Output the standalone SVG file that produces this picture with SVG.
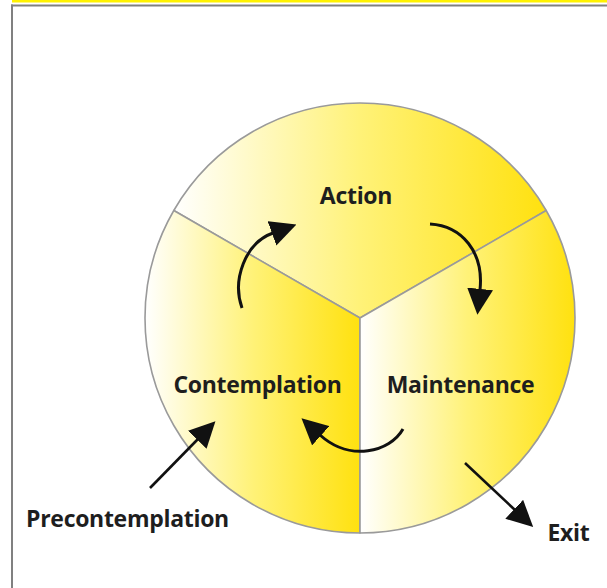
<svg xmlns="http://www.w3.org/2000/svg" width="607" height="588" viewBox="0 0 607 588">
  <style>
    .lbl { font-family: "Open Sans", "Noto Sans", "DejaVu Sans", sans-serif; font-weight: bold; font-size: 23px; letter-spacing: -0.3px; fill: #1e1e1e; }
    .sector { stroke: #9a9a9a; stroke-width: 1.6; stroke-linejoin: round; }
    .conn { fill: none; stroke: #111; stroke-width: 3; }
    .straight { fill: none; stroke: #111; stroke-width: 2.6; }
  </style>
  <defs>
    <linearGradient id="gTop" gradientUnits="userSpaceOnUse" x1="174" y1="0" x2="546" y2="0">
      <stop offset="0" stop-color="#FFFFFF"/>
      <stop offset="0.5" stop-color="#FFF278"/>
      <stop offset="1" stop-color="#FFE10F"/>
    </linearGradient>
    <linearGradient id="gLeft" gradientUnits="userSpaceOnUse" x1="145" y1="0" x2="360" y2="0">
      <stop offset="0" stop-color="#FFFFFF"/>
      <stop offset="0.5" stop-color="#FFF278"/>
      <stop offset="1" stop-color="#FFE10F"/>
    </linearGradient>
    <linearGradient id="gRight" gradientUnits="userSpaceOnUse" x1="360" y1="0" x2="575" y2="0">
      <stop offset="0" stop-color="#FFFFFF"/>
      <stop offset="0.5" stop-color="#FFF278"/>
      <stop offset="1" stop-color="#FFE10F"/>
    </linearGradient>
    <marker id="head" markerUnits="userSpaceOnUse" markerWidth="26" markerHeight="26" viewBox="0 0 24 24" refX="1" refY="12" orient="auto">
      <path d="M0,0 L24,12 L0,24 Z" fill="#111"/>
    </marker>
  </defs>

  <rect x="0" y="0" width="607" height="588" fill="#FFFFFF"/>
  <g id="frame">
    <rect x="12" y="0" width="595" height="2.5" fill="#FFF200"/>
    <rect x="11" y="4.5" width="596" height="2" fill="#808080"/>
    <rect x="11" y="4.5" width="2" height="584" fill="#808080"/>
  </g>

  <g id="action">
    <path class="sector" fill="url(#gTop)" d="M360,318 L173.8,210.5 A215,215 0 0 1 546.2,210.5 Z"/>
    <text class="lbl" x="356" y="204" text-anchor="middle">Action</text>
  </g>
  <g id="contemplation">
    <path class="sector" fill="url(#gLeft)" d="M360,318 L360,533 A215,215 0 0 1 173.8,210.5 Z"/>
    <text class="lbl" x="257.5" y="393" text-anchor="middle">Contemplation</text>
  </g>
  <g id="maintenance">
    <path class="sector" fill="url(#gRight)" d="M360,318 L546.2,210.5 A215,215 0 0 1 360,533 Z"/>
    <text class="lbl" x="460.5" y="393" text-anchor="middle">Maintenance</text>
  </g>
  <g id="precontemplation">
    <text class="lbl" x="127.5" y="527" text-anchor="middle">Precontemplation</text>
  </g>
  <g id="exit">
    <text class="lbl" x="568.5" y="541" text-anchor="middle">Exit</text>
  </g>

  <g id="connectors">
    <path class="conn" d="M242,308 C232,280 245,243 273,233" marker-end="url(#head)"/>
    <path class="conn" d="M430,224 C462,226 484,252 480,290" marker-end="url(#head)"/>
    <path class="conn" d="M403,429 C390,452 350,462 320,435" marker-end="url(#head)"/>
    <path class="straight" d="M150,488 L198,439" marker-end="url(#head)"/>
    <path class="straight" d="M465,463 L515,510" marker-end="url(#head)"/>
  </g>
</svg>
